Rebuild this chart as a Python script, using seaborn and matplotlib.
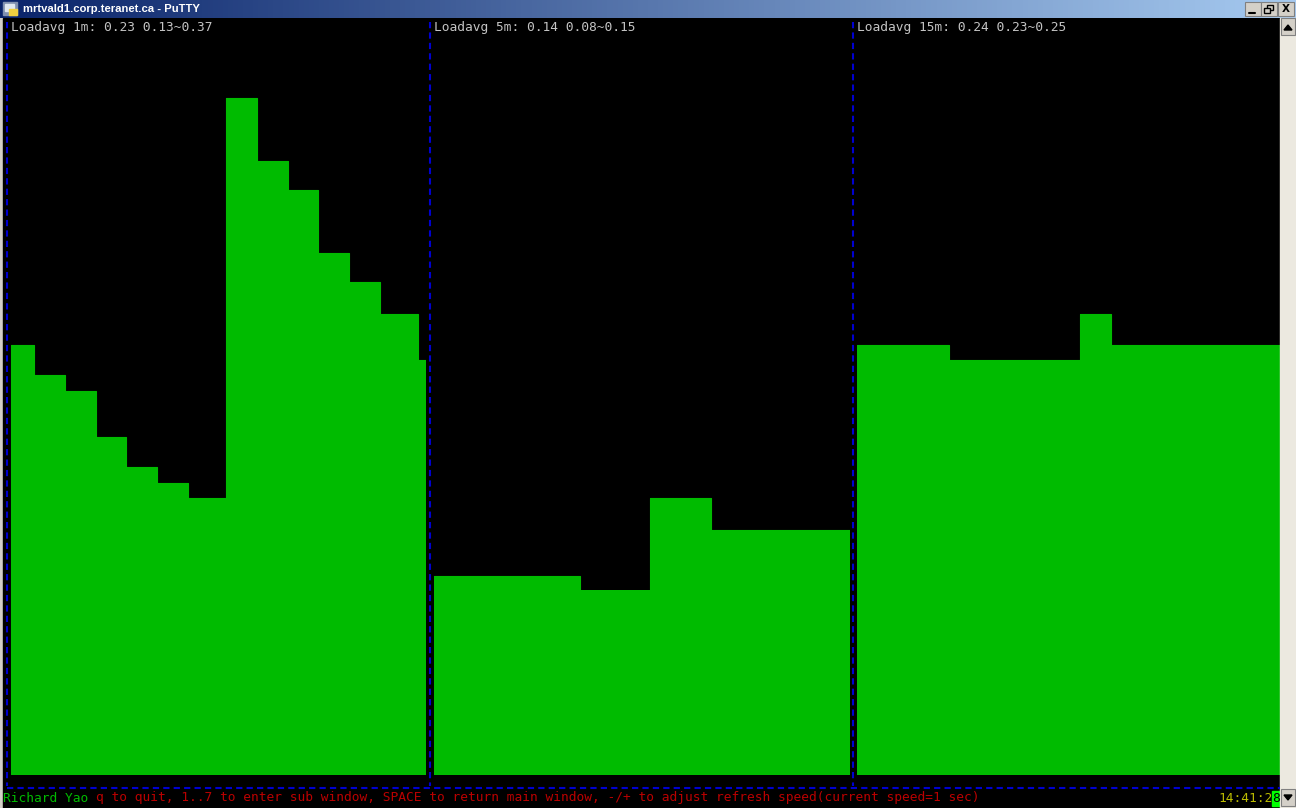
import numpy as np
import pandas as pd
import seaborn as sns
import matplotlib.pyplot as plt
from matplotlib.patches import Rectangle, Polygon

# load average history, one value per step, and how many terminal columns each step spans
load_1m = [0.233, 0.217, 0.208, 0.183, 0.167, 0.158, 0.150, 0.367, 0.333, 0.317, 0.283, 0.267, 0.250, 0.225]
cols_1m = [3, 4, 4, 4, 4, 4, 5, 4, 4, 4, 4, 4, 5, 1]
load_5m = [0.108, 0.100, 0.150, 0.133]
cols_5m = [19, 9, 8, 18]
load_15m = [0.233, 0.225, 0.250, 0.233]
cols_15m = [12, 17, 4, 22]

headers = ["Loadavg 1m: 0.23 0.13~0.37",
           "Loadavg 5m: 0.14 0.08~0.15",
           "Loadavg 15m: 0.24 0.23~0.25"]
title = "mrtvald1.corp.teranet.ca - PuTTY"
author = "Richard Yao"
help_text = "q to quit, 1..7 to enter sub window, SPACE to return main window, -/+ to adjust refresh speed(current speed=1 sec)"
clock = "14:41:28"

GREEN = "#00bb00"
RED = "#bb0000"
YELLOW = "#bbbb00"
GREY = "#c4c4c4"
BLUE = "#0000d0"
MONO = "DejaVu Sans Mono"
FS = 9.25
CW = 7.72  # char width in px

W, H = 1296, 808
sns.set_style("dark")
fig = plt.figure(figsize=(W / 100, H / 100), dpi=100)


def px_axes(x0, y0, x1, y1, z):
    # axes from pixel box (top-left origin)
    return fig.add_axes([x0 / W, 1 - y1 / H, (x1 - x0) / W, (y1 - y0) / H], zorder=z)


# background: window chrome + terminal
bg = px_axes(0, 0, W, H, 0)
bg.add_patch(Rectangle((0, 0), W, H, color="#d4d0c8"))
bg.add_patch(Rectangle((3, 18), 1277, 790, color="black"))
grad = np.linspace(0, 1, 256)[None, :, None]
c0 = np.array([10, 36, 106]) / 255
c1 = np.array([166, 202, 240]) / 255
bg.imshow(c0 + (c1 - c0) * grad, extent=(0, W, 18, 0), aspect="auto", zorder=3)
bg.set_xlim(0, W)
bg.set_ylim(H, 0)
bg.axis("off")

# panels: filled step lines
panels = [(11, 426, load_1m, cols_1m), (434, 850, load_5m, cols_5m), (857, 1280, load_15m, cols_15m)]
for x0, x1, vals, cols in panels:
    ax = px_axes(x0, 37, x1, 775, 1)
    edges = np.concatenate([[0], np.cumsum(cols)])
    df = pd.DataFrame({"col": edges, "load": list(vals) + [vals[-1]]})
    sns.lineplot(data=df, x="col", y="load", drawstyle="steps-post", color=GREEN, lw=0.8, ax=ax)
    ax.fill_between(df["col"], df["load"], step="post", color=GREEN, lw=0)
    ax.set_xlim(0, edges[-1])
    ax.set_ylim(0, 0.4)
    ax.set_facecolor("black")
    ax.axis("off")

# foreground: separators and text
fg = px_axes(0, 0, W, H, 2)
fg.set_xlim(0, W)
fg.set_ylim(H, 0)
fg.axis("off")
fg.patch.set_alpha(0)

dash = (0, (3, 2))
for x in [7, 430, 853]:
    fg.plot([x, x], [22, 786], color=BLUE, lw=1.5, linestyle=dash)
fg.plot([7, 1280], [788, 788], color=BLUE, lw=1.5, linestyle=dash)

for x, s in zip([11, 434, 857], headers):
    fg.text(x, 28, s, family=MONO, fontsize=FS, color=GREY, va="center", ha="left")

fg.text(3, 798, author, family=MONO, fontsize=FS, color=GREEN, va="center", ha="left")
fg.text(3 + (len(author) + 1) * CW, 798, help_text, family=MONO, fontsize=FS, color=RED,
        va="center", ha="left")
fg.add_patch(Rectangle((1280 - CW, 791), CW, 15, color="#00ff00"))
fg.text(1280 - len(clock) * CW, 798, clock[:-1], family=MONO, fontsize=FS, color=YELLOW,
        va="center", ha="left")
fg.text(1280 - CW, 798, clock[-1], family=MONO, fontsize=FS, color="black", va="center", ha="left")

# title bar
fg.add_patch(Rectangle((3, 2), 14, 13, color="#8090b0"))
fg.add_patch(Rectangle((5, 4), 9, 7, color="#e0e8f0"))
fg.add_patch(Rectangle((9, 9), 8, 6, color="#f0d040"))
fg.text(23, 9, title, family="Liberation Sans", fontweight="bold", fontsize=8.1, color="white",
        va="center", ha="left")
for bx in [1245, 1261, 1278]:
    fg.add_patch(Rectangle((bx, 2), 16, 14, facecolor="#d4d0c8", edgecolor="#808080", lw=0.8))
fg.plot([1249, 1255], [13, 13], color="black", lw=1.5)
fg.add_patch(Rectangle((1267, 4.5), 6, 5, fill=False, edgecolor="black", lw=1))
fg.add_patch(Rectangle((1264, 7.5), 6, 5, facecolor="#d4d0c8", edgecolor="black", lw=1))
fg.text(1286, 9.5, "X", fontsize=7.5, fontweight="bold", color="black", ha="center", va="center",
        family="DejaVu Sans")

# scrollbar
fg.add_patch(Rectangle((1280, 18), 16, 790, color="#ece9e0"))
for by, tri in [(18, [(1284, 30), (1292, 30), (1288, 25)]), (789, [(1284, 795), (1292, 795), (1288, 800)])]:
    fg.add_patch(Rectangle((1281, by), 14, 17, facecolor="#d4d0c8", edgecolor="#808080", lw=0.8))
    fg.add_patch(Polygon(tri, color="black"))

fig.savefig("out.png", dpi=100)
